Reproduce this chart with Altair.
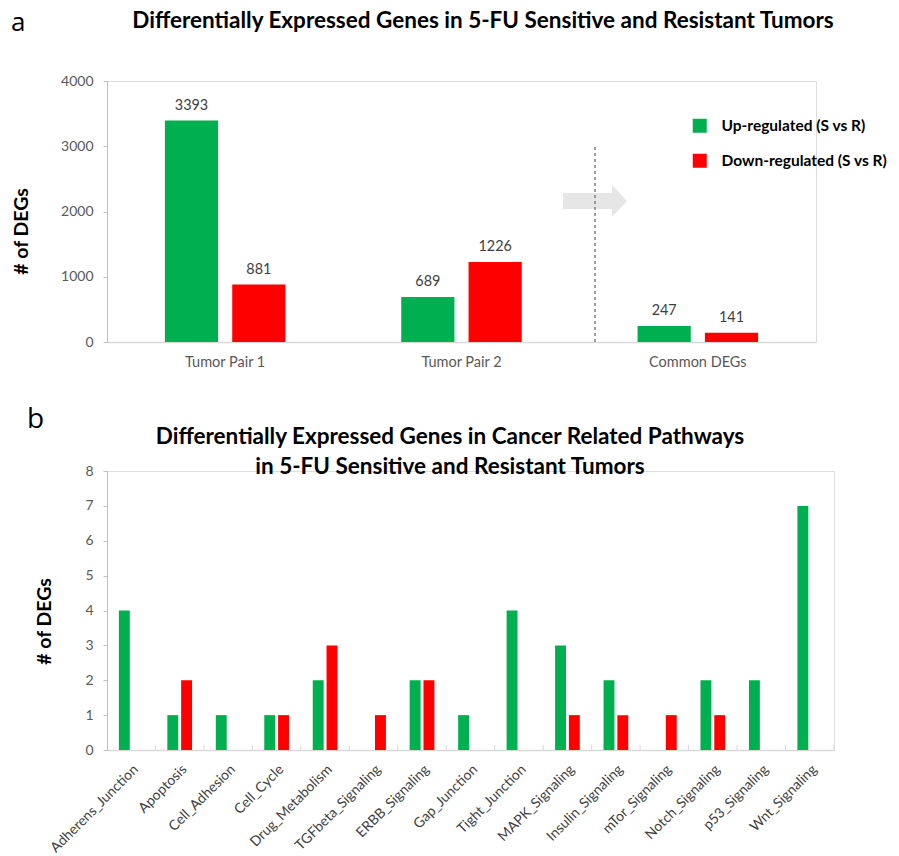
import altair as alt
import pandas as pd

FONT = "Lato"
GREEN = "#00b050"
RED = "#ff0000"
AXIS_GRAY = "#bfbfbf"
XAXIS_GRAY = "#d9d9d9"
LABEL_GRAY = "#595959"

series = ["Up-regulated (S vs R)", "Down-regulated (S vs R)"]

# ---- panel a ----
groups_a = ["Tumor Pair 1", "Tumor Pair 2", "Common DEGs"]
up_a = [3393, 689, 247]
down_a = [881, 1226, 141]
yticks_a = [0, 500, 1000, 1500, 2000, 2500, 3000, 3500, 4000]
title_a = "Differentially Expressed Genes in 5-FU Sensitive and Resistant Tumors"

# ---- panel b ----
pathways = ["Adherens_Junction", "Apoptosis", "Cell_Adhesion", "Cell_Cycle",
            "Drug_Metabolism", "TGFbeta_Signaling", "ERBB_Signaling", "Gap_Junction",
            "Tight_Junction", "MAPK_Signaling", "Insulin_Signaling", "mTor_Signaling",
            "Notch_Signaling", "p53_Signaling", "Wnt_Signaling"]
up_b = [4, 1, 1, 1, 2, 0, 2, 1, 4, 3, 2, 0, 2, 2, 7]
down_b = [0, 2, 0, 1, 3, 1, 2, 0, 0, 1, 1, 1, 1, 0, 0]
yticks_b = [0, 1, 2, 3, 4, 5, 6, 7, 8]
title_b = ["Differentially Expressed Genes in Cancer Related Pathways",
           "in 5-FU Sensitive and Resistant Tumors"]

df_a = pd.DataFrame(
    [{"group": g, "series": series[0], "value": u} for g, u in zip(groups_a, up_a)]
    + [{"group": g, "series": series[1], "value": d} for g, d in zip(groups_a, down_a)]
)
rows_b = [{"pathway": p, "series": series[0], "value": u} for p, u in zip(pathways, up_b)]
rows_b += [{"pathway": p, "series": series[1], "value": d} for p, d in zip(pathways, down_b)]
df_b = pd.DataFrame([r for r in rows_b if r["value"] > 0])

W_A, H_A = 709, 261
W_B, H_B = 727, 279

color_scale = alt.Scale(domain=series, range=[GREEN, RED])
xoff_scale = alt.Scale(paddingInner=0.21, paddingOuter=0)

# ----- chart a -----
xa = alt.X("group:N", sort=groups_a,
           scale=alt.Scale(type="band", paddingInner=0.49, paddingOuter=0.245),
           axis=alt.Axis(title=None, labelAngle=0, ticks=False, tickSize=0,
                         domainColor=XAXIS_GRAY, domainWidth=1.5,
                         labelColor=LABEL_GRAY, labelFont=FONT, labelFontSize=14.5,
                         labelPadding=13))
ya = alt.Y("value:Q", scale=alt.Scale(domain=[0, 4000], nice=False),
           axis=alt.Axis(values=yticks_a, format="d", title="# of DEGs", grid=False,
                         domainColor=AXIS_GRAY, tickColor=AXIS_GRAY, tickSize=4,
                         labelColor=LABEL_GRAY, labelFont=FONT, labelFontSize=14,
                         labelPadding=10, titleFont=FONT, titleFontSize=19.5,
                         titleFontWeight="bold", titleColor="black",
                         titlePadding=29, titleY=150))

bars_a = alt.Chart(df_a).mark_bar().encode(
    x=xa,
    xOffset=alt.XOffset("series:N", sort=series, scale=xoff_scale),
    y=ya,
    color=alt.Color("series:N", scale=color_scale,
                    legend=alt.Legend(title=None, orient="none", legendX=585, legendY=37,
                                      padding=0, symbolType="square", symbolSize=196,
                                      symbolStrokeWidth=0, labelFont=FONT,
                                      labelFontSize=15.5, labelFontWeight="bold",
                                      labelColor="black", rowPadding=18,
                                      labelOffset=14, labelLimit=400)),
)
labels_a = alt.Chart(df_a).mark_text(font=FONT, fontSize=14.4, color="#404040",
                                     baseline="alphabetic", dy=-11).encode(
    x=alt.X("group:N", sort=groups_a),
    xOffset=alt.XOffset("series:N", sort=series),
    y="value:Q",
    text="value:Q",
)
arrow_path = "M-1,-0.25L0.53,-0.25L0.53,-0.5L1,0L0.53,0.5L0.53,0.25L-1,0.25Z"
arrow = alt.Chart(pd.DataFrame({"v": [2160]})).mark_point(
    shape=arrow_path, filled=True, color="#e7e6e6", opacity=1, size=4096, strokeWidth=0
).encode(x=alt.value(488), y="v:Q")
divider = alt.Chart(pd.DataFrame({"y0": [0], "y1": [3000]})).mark_rule(
    color="#808080", strokeDash=[3, 3], strokeWidth=1.5
).encode(x=alt.value(488), y="y0:Q", y2="y1:Q")
ttl_a = alt.Chart(pd.DataFrame({"t": [title_a]})).mark_text(
    font=FONT, fontSize=22.5, fontWeight="bold", color="black", align="center",
    baseline="alphabetic"
).encode(x=alt.value(376), y=alt.value(-53), text="t:N")
tag_a = alt.Chart(pd.DataFrame({"t": ["a"]})).mark_text(
    font="Open Sans", fontSize=26, color="black", align="left", baseline="alphabetic"
).encode(x=alt.value(-96), y=alt.value(-50), text="t:N")

chart_a = alt.layer(arrow, divider, bars_a, labels_a, ttl_a, tag_a).properties(
    width=W_A, height=H_A)

# ----- chart b -----
xb = alt.X("pathway:N", sort=pathways,
           scale=alt.Scale(type="band", paddingInner=0.49, paddingOuter=0.245),
           axis=alt.Axis(title=None, labelAngle=-45, ticks=False, tickSize=0,
                         domainColor=XAXIS_GRAY, domainWidth=1.5,
                         labelColor="#404040", labelFont=FONT, labelFontSize=14,
                         labelPadding=12))
yb = alt.Y("value:Q", scale=alt.Scale(domain=[0, 8], nice=False),
           axis=alt.Axis(values=yticks_b, format="d", title="# of DEGs", grid=False,
                         domainColor=AXIS_GRAY, tickColor=AXIS_GRAY, tickSize=4,
                         labelColor=LABEL_GRAY, labelFont=FONT, labelFontSize=14,
                         labelPadding=10, titleFont=FONT, titleFontSize=19.5,
                         titleFontWeight="bold", titleColor="black",
                         titlePadding=30, titleY=150))
bars_b = alt.Chart(df_b).mark_bar().encode(
    x=xb,
    xOffset=alt.XOffset("series:N", sort=series, scale=xoff_scale),
    y=yb,
    color=alt.Color("series:N", scale=color_scale, legend=None),
)
ticks_b = alt.Chart(pd.DataFrame({"pathway": pathways})).mark_rule(
    color=XAXIS_GRAY, xOffset=24.2, strokeWidth=1
).encode(x=alt.X("pathway:N", sort=pathways), y=alt.value(H_B), y2=alt.value(H_B - 5))
ttl_b = alt.Chart(pd.DataFrame({"t": [0]})).mark_text(
    font=FONT, fontSize=22.5, fontWeight="bold", color="black", align="center",
    baseline="alphabetic", lineHeight=30
).encode(x=alt.value(343), y=alt.value(-27), text=alt.value(title_b))
tag_b = alt.Chart(pd.DataFrame({"t": ["b"]})).mark_text(
    font="Open Sans", fontSize=28, color="black", align="left", baseline="alphabetic"
).encode(x=alt.value(-80), y=alt.value(-43), text="t:N")

chart_b = alt.layer(bars_b, ticks_b, ttl_b, tag_b).properties(width=W_B, height=H_B)

chart = alt.vconcat(chart_a, chart_b, spacing=36).resolve_scale(
    color="independent", x="independent", xOffset="independent", y="independent"
).resolve_legend(color="independent").configure_view(
    stroke=None).configure(background="white",
                           padding={"left": 2, "top": 1, "right": 0, "bottom": 0})

chart.save("out.html", embed_options={"renderer": "svg", "actions": False})
